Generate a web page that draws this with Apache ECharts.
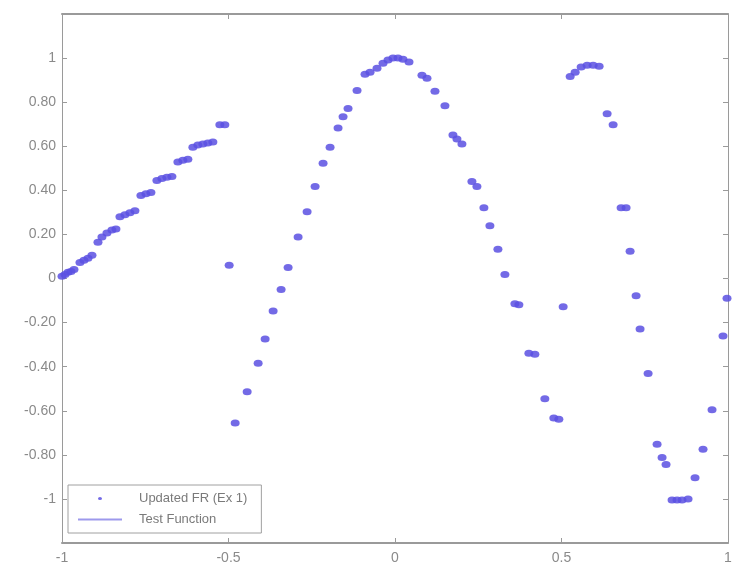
<!DOCTYPE html>
<html>
<head>
<meta charset="utf-8">
<script src="https://cdn.jsdelivr.net/npm/echarts@6/dist/echarts.min.js"></script>
<style>
  html, body { margin: 0; padding: 0; background: #fff; }
  #chart { width: 735px; height: 571px; }
</style>
</head>
<body>
<div id="chart"></div>
<script>
// sample x positions and network output
var sampleX = [
  -1.000, -0.991, -0.982, -0.973, -0.964,
  -0.946, -0.934, -0.922, -0.910,
  -0.892, -0.880, -0.865, -0.850, -0.838,
  -0.826, -0.811, -0.796, -0.781,
  -0.763, -0.748, -0.733,
  -0.715, -0.700, -0.685, -0.670,
  -0.652, -0.637, -0.622,
  -0.607, -0.592, -0.577, -0.562, -0.547,
  -0.526, -0.511, -0.498,
  -0.480, -0.444, -0.411, -0.390, -0.366, -0.342, -0.321, -0.291, -0.264, -0.240,
  -0.216, -0.195, -0.171, -0.156, -0.141, -0.114, -0.090, -0.075, -0.054, -0.036,
  -0.021, -0.006, 0.009, 0.024, 0.042, 0.081, 0.096, 0.120, 0.150, 0.174,
  0.186, 0.201, 0.231, 0.246, 0.267, 0.285, 0.309, 0.330, 0.360, 0.372,
  0.402, 0.420, 0.450, 0.477, 0.492, 0.505,
  0.526, 0.541, 0.559, 0.577, 0.595, 0.613, 0.637, 0.655, 0.679, 0.694,
  0.706, 0.724, 0.736, 0.760, 0.787, 0.802, 0.814, 0.832, 0.847, 0.862,
  0.880, 0.901, 0.925, 0.952, 0.985, 0.997
];
var sampleY = [
  0.010, 0.018, 0.028, 0.032, 0.041,
  0.073, 0.083, 0.092, 0.106,
  0.165, 0.188, 0.206, 0.220, 0.225,
  0.280, 0.289, 0.298, 0.307,
  0.376, 0.385, 0.390,
  0.445, 0.454, 0.459, 0.463,
  0.528, 0.537, 0.541,
  0.596, 0.606, 0.610, 0.615, 0.619,
  0.697, 0.697, 0.060,
  -0.656, -0.514, -0.385, -0.275, -0.147, -0.050, 0.050, 0.188, 0.303, 0.417,
  0.523, 0.596, 0.683, 0.734, 0.771, 0.853, 0.927, 0.936, 0.954, 0.977,
  0.991, 1.000, 1.000, 0.995, 0.982, 0.922, 0.908, 0.849, 0.784, 0.651,
  0.633, 0.610, 0.440, 0.417, 0.321, 0.239, 0.133, 0.018, -0.115, -0.119,
  -0.339, -0.344, -0.546, -0.633, -0.638, -0.128,
  0.917, 0.936, 0.959, 0.968, 0.968, 0.963, 0.748, 0.697, 0.321, 0.321,
  0.124, -0.078, -0.229, -0.431, -0.752, -0.812, -0.844, -1.005, -1.005, -1.005,
  -1.000, -0.904, -0.775, -0.596, -0.261, -0.090
];
var xTicks = [-1, -0.5, 0, 0.5, 1];
var yTicks = [-1, -0.8, -0.6, -0.4, -0.2, 0, 0.2, 0.4, 0.6, 0.8, 1];
var seriesNames = ['Updated FR (Ex 1)', 'Test Function'];

var points = sampleX.map(function (x, i) { return [x, sampleY[i]]; });

function fmtY(v) {
  if (Math.abs(v) < 1e-9) return '0';
  if (Math.abs(Math.abs(v) - 1) < 1e-9) return String(Math.round(v));
  return v.toFixed(2);
}

var axisGray = '#9a9a9a';
var testLineColor = '#9d99ec';
var labelStyle = { color: '#8a8a8a', fontSize: 14, fontFamily: 'Liberation Sans' };

// frame axis helper (MATLAB box style, ticks pointing in)
function frameAxis(extra, lineWidth) {
  return Object.assign({
    type: 'value',
    axisLine: { show: true, onZero: false, lineStyle: { color: axisGray, width: lineWidth } },
    axisTick: { show: true, inside: true, length: 5, lineStyle: { color: axisGray } },
    splitLine: { show: false }
  }, extra);
}

var chart = echarts.init(document.getElementById('chart'));
chart.setOption({
  animation: false,
  backgroundColor: '#fff',
  grid: { left: 62, right: 7, top: 14, bottom: 28 },
  legend: {
    orient: 'vertical',
    left: 68,
    top: 485,
    padding: [7, 14, 7, 10],
    itemGap: 8,
    itemWidth: 44,
    itemHeight: 10,
    borderColor: '#a0a0a0',
    borderWidth: 1,
    backgroundColor: '#fff',
    textStyle: { color: '#7a7a7a', fontSize: 13, fontFamily: 'Liberation Sans', padding: [0, 0, 0, 12] },
    data: [
      { name: seriesNames[0], icon: 'path://M-22,0 L-21.9,0 M-2,0 A2,1.6 0 1 1 2,0 A2,1.6 0 1 1 -2,0 M22,0 L21.9,0' },
      {
        name: seriesNames[1],
        icon: 'path://M0,0 L44,0 L44,2 L0,2 Z',
        itemStyle: { color: testLineColor, borderWidth: 0 }
      }
    ]
  },
  xAxis: [
    frameAxis({
      min: -1, max: 1, interval: 0.5, position: 'bottom',
      axisLabel: Object.assign({ margin: 8, formatter: function (v) { return String(v); } }, labelStyle)
    }, 2),
    frameAxis({ min: -1, max: 1, interval: 0.5, position: 'top', axisLabel: { show: false } }, 2)
  ],
  yAxis: [
    frameAxis({
      min: -1.2, max: 1.2, interval: 0.2, position: 'left',
      axisLabel: Object.assign({
        margin: 6,
        formatter: function (v) { return Math.abs(v) > 1.05 ? '' : fmtY(v); }
      }, labelStyle)
    }, 1),
    frameAxis({ min: -1.2, max: 1.2, interval: 0.2, position: 'right', axisLabel: { show: false } }, 1)
  ],
  series: [{
    name: seriesNames[0],
    type: 'scatter',
    symbol: 'circle',
    symbolSize: [9, 7],
    itemStyle: { color: '#5a50e2', opacity: 0.85 },
    data: points
  }, {
    name: seriesNames[1],
    type: 'line',
    symbol: 'none',
    itemStyle: { color: testLineColor },
    lineStyle: { color: testLineColor, width: 1 },
    data: []
  }]
});
</script>
</body>
</html>
